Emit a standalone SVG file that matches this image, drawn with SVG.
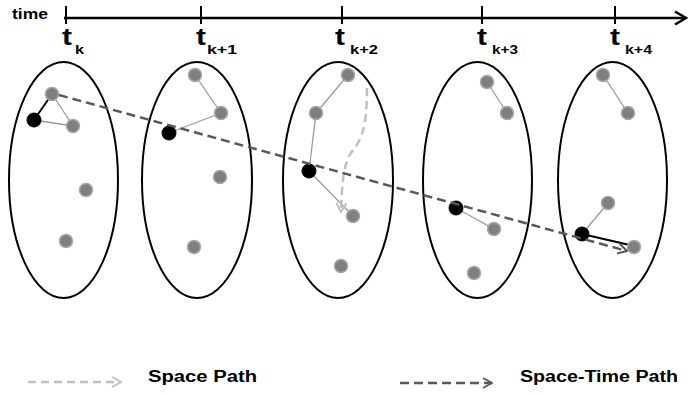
<svg xmlns="http://www.w3.org/2000/svg" width="689" height="394" viewBox="0 0 689 394">
<style>
.lbl{font-family:"Liberation Sans",Arial,sans-serif;font-weight:bold;fill:#000}
.ell{fill:none;stroke:#000;stroke-width:2}
.g{fill:#7f7f7f;stroke:#a6a6a6;stroke-width:1.5}
.b{fill:#000;stroke:#000;stroke-width:1}
.e{stroke:#9a9a9a;stroke-width:1.3;fill:none}
.eb{stroke:#000;stroke-width:2;fill:none}
.st{stroke:#595959;stroke-width:2.5;stroke-dasharray:9 5;fill:none}
.sp{stroke:#bfbfbf;stroke-width:2.5;stroke-dasharray:8 5;fill:none}
</style>
<defs>
<marker id="aDark" markerUnits="userSpaceOnUse" viewBox="0 0 12 12" refX="11" refY="6" markerWidth="12" markerHeight="12" orient="auto">
<path d="M2,1 L11,6 L2,11" fill="none" stroke="#595959" stroke-width="2"/>
</marker>
<marker id="aLight" markerUnits="userSpaceOnUse" viewBox="0 0 12 12" refX="11" refY="6" markerWidth="12" markerHeight="12" orient="auto">
<path d="M2,1 L11,6 L2,11" fill="none" stroke="#bfbfbf" stroke-width="2"/>
</marker>
<marker id="aBlack" markerUnits="userSpaceOnUse" viewBox="0 0 16 16" refX="14" refY="8" markerWidth="16" markerHeight="16" orient="auto">
<path d="M3,1.5 L14,8 L3,14.5" fill="none" stroke="#000" stroke-width="2.5"/>
</marker>
</defs>

<g id="timeline">
<line x1="64" y1="18" x2="686" y2="18" stroke="#000" stroke-width="2.5" marker-end="url(#aBlack)"/>
<g stroke="#000" stroke-width="2">
<line x1="66" y1="6" x2="66" y2="24"/>
<line x1="201" y1="6" x2="201" y2="24"/>
<line x1="342" y1="6" x2="342" y2="24"/>
<line x1="482" y1="6" x2="482" y2="24"/>
<line x1="615" y1="6" x2="615" y2="24"/>
</g>
<text class="lbl" x="12" y="19" font-size="15" textLength="36" lengthAdjust="spacingAndGlyphs">time</text>
<g font-size="23">
<text class="lbl" x="62" y="45" textLength="10" lengthAdjust="spacingAndGlyphs">t</text>
<text class="lbl" x="196" y="45" textLength="10" lengthAdjust="spacingAndGlyphs">t</text>
<text class="lbl" x="335" y="45" textLength="10" lengthAdjust="spacingAndGlyphs">t</text>
<text class="lbl" x="477" y="45" textLength="10" lengthAdjust="spacingAndGlyphs">t</text>
<text class="lbl" x="610" y="45" textLength="10" lengthAdjust="spacingAndGlyphs">t</text>
</g>
<g font-size="13">
<text class="lbl" x="75" y="54" textLength="9" lengthAdjust="spacingAndGlyphs">k</text>
<text class="lbl" x="207" y="54" textLength="30" lengthAdjust="spacingAndGlyphs">k+1</text>
<text class="lbl" x="350" y="54" textLength="28" lengthAdjust="spacingAndGlyphs">k+2</text>
<text class="lbl" x="492" y="54" textLength="26" lengthAdjust="spacingAndGlyphs">k+3</text>
<text class="lbl" x="625" y="54" textLength="27" lengthAdjust="spacingAndGlyphs">k+4</text>
</g>
</g>

<g id="slice-k">
<ellipse class="ell" cx="63.5" cy="180" rx="54.5" ry="118"/>
<line class="e" x1="34" y1="120" x2="73" y2="126"/>
<line class="e" x1="52" y1="94" x2="73" y2="126"/>
<line class="eb" x1="34" y1="120" x2="52" y2="94"/>
<circle class="g" cx="52" cy="94" r="6.5"/>
<circle class="g" cx="73" cy="126" r="6.5"/>
<circle class="g" cx="86" cy="190" r="6.5"/>
<circle class="g" cx="66" cy="241" r="6.5"/>
<circle class="b" cx="34" cy="120" r="7"/>
</g>

<g id="slice-k1">
<ellipse class="ell" cx="197" cy="180" rx="55" ry="118"/>
<line class="e" x1="195" y1="75" x2="221" y2="113"/>
<line class="e" x1="221" y1="113" x2="169" y2="133"/>
<circle class="g" cx="195" cy="75" r="6.5"/>
<circle class="g" cx="221" cy="113" r="6.5"/>
<circle class="g" cx="220" cy="177" r="6.5"/>
<circle class="g" cx="194" cy="247" r="6.5"/>
<circle class="b" cx="169" cy="133" r="7"/>
</g>

<g id="slice-k2">
<ellipse class="ell" cx="338" cy="180" rx="55" ry="118"/>
<line class="e" x1="348" y1="75" x2="316" y2="113"/>
<line class="e" x1="316" y1="113" x2="309" y2="171"/>
<line class="e" x1="309" y1="171" x2="353" y2="216"/>
<circle class="g" cx="348" cy="75" r="6.5"/>
<circle class="g" cx="316" cy="113" r="6.5"/>
<circle class="g" cx="353" cy="216" r="6.5"/>
<circle class="g" cx="341" cy="266" r="6.5"/>
<circle class="b" cx="309" cy="171" r="7"/>
</g>

<g id="slice-k3">
<ellipse class="ell" cx="477.5" cy="180" rx="54.5" ry="118"/>
<line class="e" x1="487" y1="82" x2="507" y2="113"/>
<line class="e" x1="456" y1="208" x2="494" y2="229"/>
<circle class="g" cx="487" cy="82" r="6.5"/>
<circle class="g" cx="507" cy="113" r="6.5"/>
<circle class="g" cx="494" cy="229" r="6.5"/>
<circle class="g" cx="474" cy="273" r="6.5"/>
<circle class="b" cx="456" cy="208" r="7"/>
</g>

<g id="slice-k4">
<ellipse class="ell" cx="612.5" cy="180" rx="54.5" ry="118"/>
<line class="e" x1="603" y1="75" x2="628" y2="113"/>
<line class="e" x1="608" y1="203" x2="582" y2="234"/>
<line class="eb" x1="582" y1="234" x2="634" y2="246"/>
<circle class="g" cx="603" cy="75" r="6.5"/>
<circle class="g" cx="628" cy="113" r="6.5"/>
<circle class="g" cx="608" cy="203" r="6.5"/>
<circle class="g" cx="634" cy="247" r="6.5"/>
<circle class="b" cx="582" cy="234" r="7"/>
</g>

<g id="connectors">
<path class="sp" d="M367,88 C367,125 362,140 353,150 C343,162 342,185 341,212" marker-end="url(#aLight)"/>
<path class="st" d="M59,95 L627,251" marker-end="url(#aDark)"/>
</g>

<g id="legend">
<line class="sp" x1="28" y1="382" x2="121" y2="382" marker-end="url(#aLight)"/>
<text class="lbl" x="148" y="382" font-size="16" textLength="109" lengthAdjust="spacingAndGlyphs">Space Path</text>
<line class="st" x1="400" y1="383" x2="492" y2="383" marker-end="url(#aDark)"/>
<text class="lbl" x="520" y="382" font-size="16" textLength="158" lengthAdjust="spacingAndGlyphs">Space-Time Path</text>
</g>
</svg>
